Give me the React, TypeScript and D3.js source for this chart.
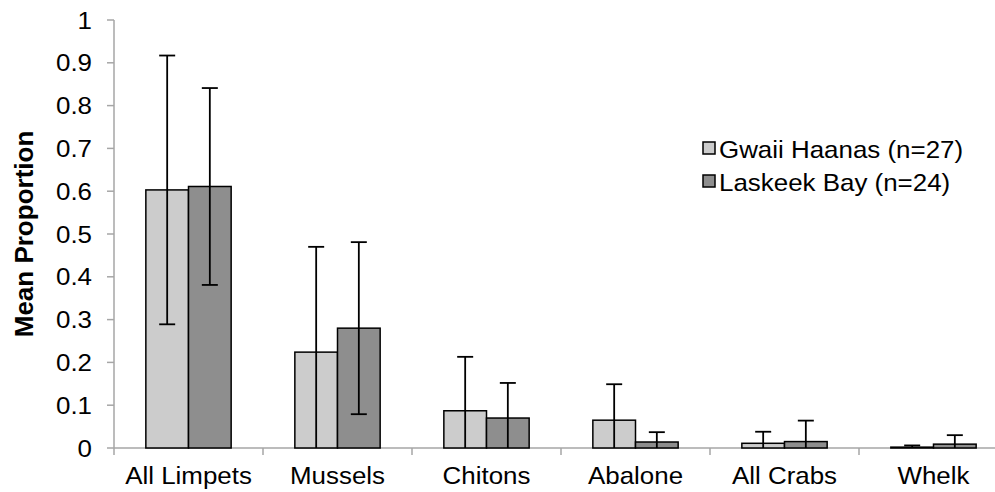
import { useRef, useEffect } from 'react';
import * as d3 from 'd3';

const WIDTH = 995;
const HEIGHT = 492;
const FONT = '"Liberation Sans", Arial, Helvetica, sans-serif';

const categories = ['All Limpets', 'Mussels', 'Chitons', 'Abalone', 'All Crabs', 'Whelk'];
const seriesNames = ['Gwaii Haanas (n=27)', 'Laskeek Bay (n=24)'];
const seriesColors = ['#cccccc', '#8e8e8e'];
// means and standard deviations
const gwaiiMean = [0.603, 0.224, 0.087, 0.065, 0.011, 0.002];
const gwaiiSd = [0.314, 0.246, 0.126, 0.084, 0.027, 0.004];
const laskeekMean = [0.611, 0.280, 0.070, 0.014, 0.015, 0.009];
const laskeekSd = [0.230, 0.201, 0.082, 0.023, 0.049, 0.021];
const yTicks = [0, 0.1, 0.2, 0.3, 0.4, 0.5, 0.6, 0.7, 0.8, 0.9, 1];

const PLOT = { left: 114, top: 20, bottom: 448, right: 1008 };
const TEXT_SIZE = 24;
const STRETCH = 1.08; // source figure text is slightly wide

export default function App() {
  const svgRef = useRef<SVGSVGElement | null>(null);

  useEffect(() => {
    const svg = d3.select(svgRef.current);
    svg.selectAll('*').remove();

    const label = (x: number, y: number, txt: string, anchor: string, baseline?: string) => {
      const t = svg.append('g')
        .attr('transform', `translate(${x},${y}) scale(${STRETCH},1)`)
        .append('text')
        .attr('text-anchor', anchor)
        .attr('font-family', FONT).attr('font-size', TEXT_SIZE).attr('fill', '#000')
        .text(txt);
      if (baseline) t.attr('dominant-baseline', baseline);
    };

    const x = d3.scaleBand<string>()
      .domain(categories)
      .range([PLOT.left, PLOT.right])
      .paddingInner(0.4275)
      .paddingOuter(0.4275 / 2);
    const x1 = d3.scaleBand<string>()
      .domain(seriesNames)
      .range([0, x.bandwidth()]);
    const y = d3.scaleLinear().domain([0, 1]).range([PLOT.bottom, PLOT.top]);

    const means = [gwaiiMean, laskeekMean];
    const sds = [gwaiiSd, laskeekSd];
    const axisColor = '#a6a6a6';

    // y axis
    svg.append('line')
      .attr('x1', PLOT.left).attr('x2', PLOT.left)
      .attr('y1', y(1)).attr('y2', y(0))
      .attr('stroke', axisColor).attr('stroke-width', 1.5);
    yTicks.forEach(t => {
      svg.append('line')
        .attr('x1', PLOT.left - 7).attr('x2', PLOT.left)
        .attr('y1', y(t)).attr('y2', y(t))
        .attr('stroke', axisColor).attr('stroke-width', 1.5);
      label(92, y(t), d3.format('~g')(t), 'end', 'central');
    });

    // x axis
    const step = x.step();
    svg.append('line')
      .attr('x1', PLOT.left).attr('x2', PLOT.right)
      .attr('y1', y(0)).attr('y2', y(0))
      .attr('stroke', axisColor).attr('stroke-width', 1.5);
    d3.range(categories.length + 1).forEach(i => {
      const xp = PLOT.left + i * step;
      svg.append('line')
        .attr('x1', xp).attr('x2', xp)
        .attr('y1', y(0)).attr('y2', y(0) + 7)
        .attr('stroke', axisColor).attr('stroke-width', 1.5);
    });
    categories.forEach(c => {
      label((x(c) ?? 0) + x.bandwidth() / 2, 484, c, 'middle');
    });

    // bars
    seriesNames.forEach((s, si) => {
      categories.forEach((c, ci) => {
        const x0 = (x(c) ?? 0) + (x1(s) ?? 0);
        const v = means[si][ci];
        svg.append('rect')
          .attr('x', x0).attr('y', y(v))
          .attr('width', x1.bandwidth()).attr('height', y(0) - y(v))
          .attr('fill', seriesColors[si])
          .attr('stroke', '#000').attr('stroke-width', 1.5);
      });
    });

    // error bars
    seriesNames.forEach((s, si) => {
      categories.forEach((c, ci) => {
        const cx = (x(c) ?? 0) + (x1(s) ?? 0) + x1.bandwidth() / 2;
        const m = means[si][ci];
        const hi = m + sds[si][ci];
        const lo = m - sds[si][ci];
        svg.append('line')
          .attr('x1', cx).attr('x2', cx)
          .attr('y1', y(hi)).attr('y2', y(Math.max(0, lo)))
          .attr('stroke', '#000').attr('stroke-width', 1.8);
        svg.append('line')
          .attr('x1', cx - 8).attr('x2', cx + 8)
          .attr('y1', y(hi)).attr('y2', y(hi))
          .attr('stroke', '#000').attr('stroke-width', 1.8);
        if (lo > 0) {
          svg.append('line')
            .attr('x1', cx - 8).attr('x2', cx + 8)
            .attr('y1', y(lo)).attr('y2', y(lo))
            .attr('stroke', '#000').attr('stroke-width', 1.8);
        }
      });
    });

    // y title
    svg.append('text')
      .attr('transform', `translate(24,${(PLOT.top + PLOT.bottom) / 2}) rotate(-90)`)
      .attr('text-anchor', 'middle').attr('dominant-baseline', 'central')
      .attr('font-family', FONT).attr('font-size', 26).attr('font-weight', 'bold')
      .attr('fill', '#000')
      .text('Mean Proportion');

    // legend
    seriesNames.forEach((s, si) => {
      const base = 158 + si * 33;
      svg.append('rect')
        .attr('x', 703).attr('y', base - 16)
        .attr('width', 12).attr('height', 12)
        .attr('fill', seriesColors[si])
        .attr('stroke', '#000').attr('stroke-width', 1.5);
      label(719, base, s, 'start');
    });
  }, []);

  return (
    <svg
      ref={svgRef}
      width={WIDTH}
      height={HEIGHT}
      style={{ position: 'absolute', left: 0, top: 0, background: '#fff' }}
    />
  );
}
